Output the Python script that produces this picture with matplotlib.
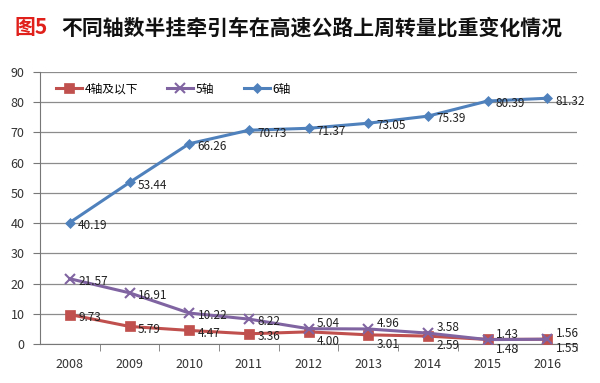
import matplotlib.pyplot as plt

plt.rcParams['font.family'] = ['Noto Sans CJK SC', 'DejaVu Sans']

# data
years = ['2008', '2009', '2010', '2011', '2012', '2013', '2014', '2015', '2016']
axle4 = [9.73, 5.79, 4.47, 3.36, 4.00, 3.01, 2.59, 1.48, 1.55]
axle5 = [21.57, 16.91, 10.22, 8.22, 5.04, 4.96, 3.58, 1.43, 1.56]
axle6 = [40.19, 53.44, 66.26, 70.73, 71.37, 73.05, 75.39, 80.39, 81.32]
names = ['4轴及以下', '5轴', '6轴']

colors = ['#C0504D', '#8064A2', '#4F81BD']
markers = ['s', 'x', 'D']
msizes = [7, 7, 5]
# label nudges (points) where the small series crowd together
dy = [[-2, -2, -2, -2, -7, -7, -7, -7, -7],
      [-2, -2, -2, -2, 4, 4, 4, 4, 4],
      [-2] * 9]

fig = plt.figure(figsize=(6, 3.83), dpi=100)
ax = fig.add_axes([0.0667, 0.102, 0.895, 0.710])

x = list(range(len(years)))
for vals, name, c, m, ms, off in zip([axle4, axle5, axle6], names, colors, markers, msizes, dy):
    ax.plot(x, vals, color=c, lw=2.2, marker=m, ms=ms, mew=1.5 if m == 'x' else 0.5,
            mec=c, label=name, zorder=3)
    for xi, v, o in zip(x, vals, off):
        ax.annotate(f'{v:.2f}', (xi, v), xytext=(6, o), textcoords='offset points',
                    fontsize=8.5, color='#222222', va='center', ha='left', zorder=4)

ax.set_xlim(-0.5, len(years) - 0.5)
ax.set_ylim(0, 90)
ax.set_yticks(range(0, 91, 10))
ax.yaxis.grid(True, color='#8c8c8c', lw=0.9)
ax.set_axisbelow(True)

ax.set_xticks(x)
ax.set_xticklabels(years)
ax.set_xticks([i + 0.5 for i in x], minor=True)
ax.tick_params(axis='x', which='major', length=0, pad=10, labelsize=9, colors='#333333')
ax.tick_params(axis='x', which='minor', length=5, direction='out', color='#777777')
ax.tick_params(axis='y', length=5, labelsize=9, colors='#333333', pad=6)
ax.tick_params(axis='y', color='#777777')

for s in ['top', 'right']:
    ax.spines[s].set_visible(False)
ax.spines['left'].set_color('#777777')
ax.spines['bottom'].set_color('#777777')

ax.legend(loc='upper left', bbox_to_anchor=(0.01, 1.0), ncol=3, frameon=False,
          fontsize=8.5, handlelength=2.2, columnspacing=2.5, handletextpad=0.2)

fig.text(0.025, 0.928, '图5', color='#E0201B', fontsize=15, fontweight='bold', va='center')
fig.text(0.103, 0.928, '不同轴数半挂牵引车在高速公路上周转量比重变化情况', color='#111111',
         fontsize=15, fontweight='bold', va='center')

plt.savefig('out.png', dpi=100)
